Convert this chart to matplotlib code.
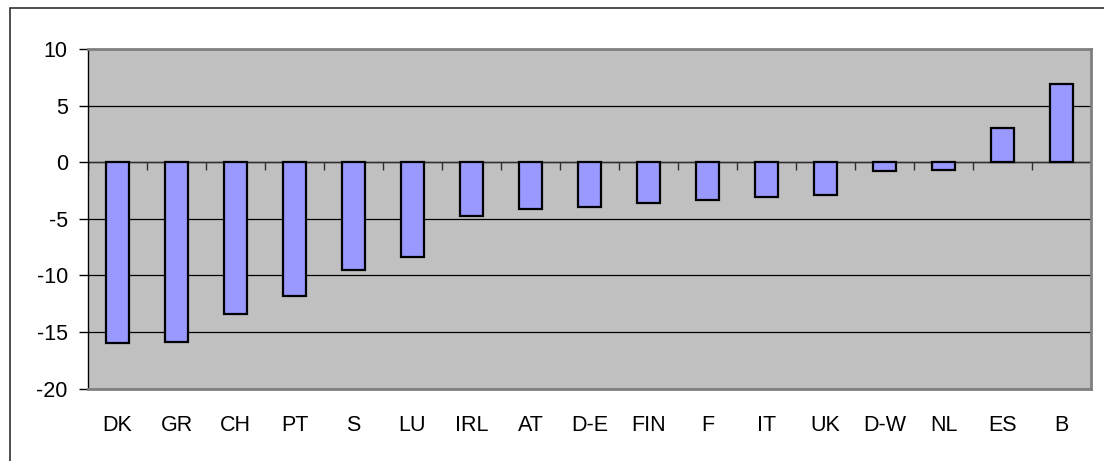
import matplotlib.pyplot as plt
from matplotlib.patches import Rectangle
import numpy as np

# Categories and values
countries = ['DK', 'GR', 'CH', 'PT', 'S', 'LU', 'IRL', 'AT', 'D-E', 'FIN',
             'F', 'IT', 'UK', 'D-W', 'NL', 'ES', 'B']
values = [-16.0, -15.9, -13.4, -11.8, -9.5, -8.4, -4.8, -4.1, -4.0, -3.6,
          -3.3, -3.1, -2.9, -0.8, -0.7, 3.0, 6.9]
y_ticks = [-20, -15, -10, -5, 0, 5, 10]

plt.rcParams['font.family'] = ['Liberation Sans', 'DejaVu Sans']
plt.rcParams['axes.unicode_minus'] = False

W, H = 1104, 461
fig = plt.figure(figsize=(W / 100, H / 100), dpi=100)
fig.patch.set_facecolor('white')

# outer chart frame (runs off the right and bottom edge)
fig.patches.append(Rectangle((10 / W, -0.1), 1.2, 1 - 8 / H + 0.1,
                             transform=fig.transFigure, fill=False,
                             edgecolor='#303030', linewidth=1.2))

ax = fig.add_axes([88 / W, (H - 388.5) / H, (1091 - 88) / W, (388.5 - 49) / H])
ax.set_facecolor('#C0C0C0')

x = np.arange(len(countries))
ax.bar(x, values, width=0.4, color='#9999FF', edgecolor='black',
       linewidth=1.6, zorder=3)

ax.set_xlim(-0.5, len(countries) - 0.5)
ax.set_ylim(-20, 10)
ax.set_yticks(y_ticks)
ax.yaxis.grid(True, color='black', linewidth=0.9, zorder=1)
ax.set_axisbelow(True)

# category axis sits on the zero line with ticks between bars
ax.axhline(0, color='#303030', linewidth=1.0, zorder=2)
bounds = np.arange(len(countries) + 1) - 0.5
ax.vlines(bounds, -0.7, 0, color='#303030', linewidth=1.0, zorder=2)

ax.set_xticks(x)
ax.set_xticklabels(countries)
ax.tick_params(axis='x', length=0, pad=19, labelsize=15.5)
ax.tick_params(axis='y', length=6.5, width=1.0, pad=8, labelsize=15.5,
               direction='out', color='black')

for side in ['top', 'right', 'bottom']:
    ax.spines[side].set_color('#808080')
    ax.spines[side].set_linewidth(2.0)
ax.spines['left'].set_color('black')
ax.spines['left'].set_linewidth(1.0)

fig.savefig('out.png', dpi=100)
